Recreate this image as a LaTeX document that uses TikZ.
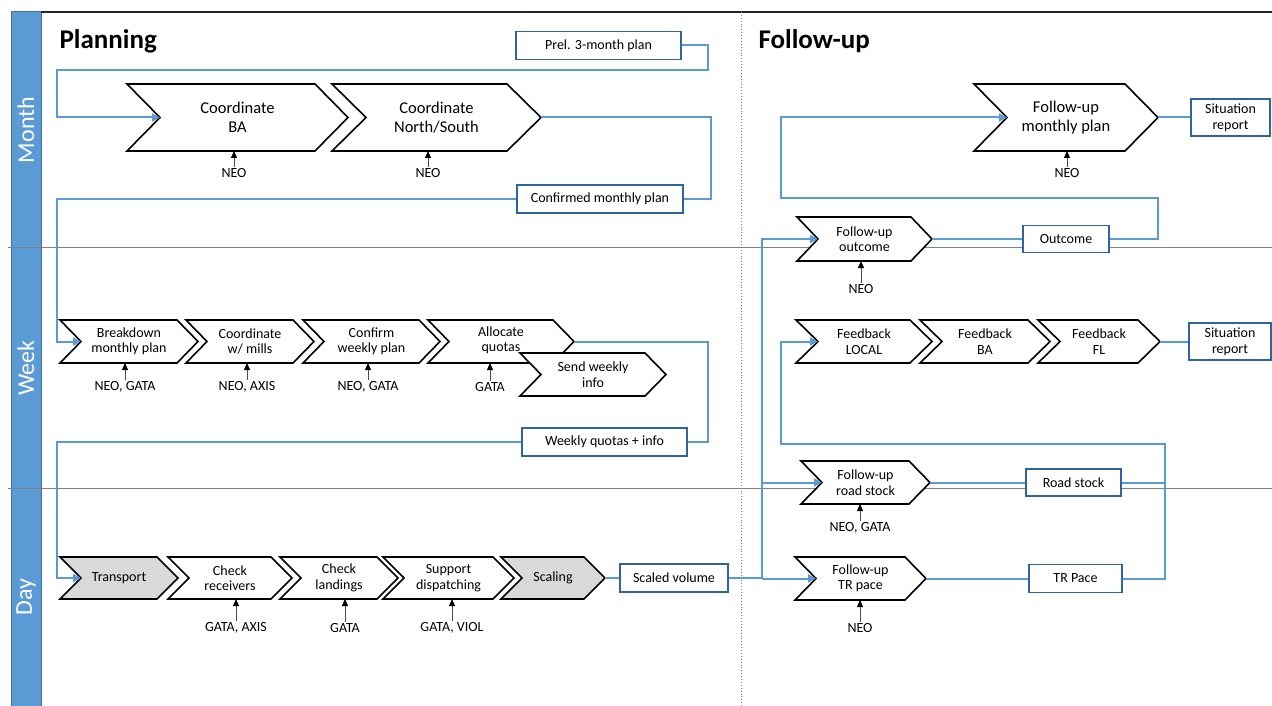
\documentclass[tikz,border=0pt]{standalone}
\usepackage{fontspec}
\setmainfont{Carlito}
\usetikzlibrary{arrows.meta}
\definecolor{laneblue}{RGB}{91,155,213}
\definecolor{laneedge}{RGB}{65,113,156}
\definecolor{connblue}{RGB}{91,155,213}
\definecolor{boxedge}{RGB}{46,100,160}
\definecolor{chevgray}{RGB}{217,217,217}
\tikzset{
 chevline/.style={draw=black, line width=1.6pt, line join=miter},
 chevtext/.style={align=center, inner sep=0pt, font=\fontsize{14}{15.5}\selectfont},
 bigtext/.style={font=\fontsize{16.5}{19.5}\selectfont},
 box/.style={draw=boxedge, line width=1.3pt, fill=white, align=center, inner sep=0pt, font=\fontsize{14}{16}\selectfont},
 conn/.style={draw=connblue, line width=2pt},
 connarrow/.style={conn, -{Triangle[length=8pt,width=8pt]}},
 tag/.style={font=\fontsize{14}{16}\selectfont, inner sep=1pt},
 tagarrow/.style={draw=gray!60!black, line width=0.8pt, -{Triangle[length=7pt,width=6pt,color=black]}},
 lanelbl/.style={rotate=90, text=white, font=\fontsize{24}{28}\selectfont},
 titletext/.style={font=\bfseries\fontsize{27}{32}\selectfont, anchor=west},
}
% name, fill, xl, xr, yt, yb, depth, node style, text
\newcommand\mychev[9]{%
  \draw[chevline, fill=#2] (#3,#5) -- (#4,#5) -- ({#4+#7},{(#5+#6)/2}) -- (#4,#6) -- (#3,#6) -- ({#3+#7},{(#5+#6)/2}) -- cycle;
  \coordinate (#1-in) at ({#3+#7},{(#5+#6)/2});
  \coordinate (#1-out) at ({#4+#7},{(#5+#6)/2});
  \coordinate (#1-b) at (#3,#6);
  \node[chevtext,#8] (#1) at ({(#3+#7+#4)/2},{(#5+#6)/2}) {#9};
}
% name, chevron, x, y, text
\newcommand\mytag[5]{%
  \node[tag] (#1) at (#3,#4) {#5};
  \draw[tagarrow] (#1.north) -- (#1.north |- #2-b);
}
\begin{document}
\begin{tikzpicture}[x=1pt,y=-1pt]
\useasboundingbox (0,0) rectangle (1272,706);
% lanes
\fill[laneblue] (11,12) rectangle (41,706);
\draw[laneedge, line width=1pt] (11,706) -- (11,12) -- (41,12) -- (41,706);
\draw[black!85, line width=1.2pt] (41,12) -- (1272,12);
\draw[gray, line width=1pt] (8,247) -- (1272,247);
\draw[gray, line width=1pt] (8,488) -- (1272,488);
\draw[gray, dotted, line width=0.9pt] (741,12) -- (741,706);
\node[lanelbl] (lmonth) at (26,130) {Month};
\node[lanelbl] (lweek) at (26,368) {Week};
\node[lanelbl] (lday) at (26,597) {Day};
\node[titletext] (tplan) at (56,41) {Planning};
\node[titletext] (tfollow) at (755,41) {Follow-up};

% boxes
\node[box, minimum width=165pt, minimum height=28pt] (prel) at (598.5,45.5) {Prel. 3-month plan};
\node[box, minimum width=166pt, minimum height=28pt] (conf) at (600,199) {Confirmed monthly plan};
\node[box, minimum width=165pt, minimum height=28pt] (wq) at (604.5,442) {Weekly quotas + info};
\node[box, minimum width=108pt, minimum height=28pt] (sv) at (674,578) {Scaled volume};
\node[box, minimum width=79pt, minimum height=37pt] (sit1) at (1230.5,117.5) {Situation\\report};
\node[box, minimum width=82pt, minimum height=37pt] (sit2) at (1230,341.5) {Situation\\report};
\node[box, minimum width=86pt, minimum height=27pt] (oc) at (1066,239) {Outcome};
\node[box, minimum width=95pt, minimum height=27pt] (rs) at (1073.5,482.5) {Road stock};
\node[box, minimum width=93pt, minimum height=28pt] (tp) at (1075.5,578.5) {TR Pace};

% chevrons: month
\mychev{cba}{white}{127}{315}{84}{151}{33}{bigtext}{Coordinate\\BA}
\mychev{cns}{white}{332}{507}{84}{151}{34}{bigtext}{Coordinate\\North/South}
\mychev{fmp}{white}{974}{1125}{84}{151}{33}{bigtext}{Follow-up\\monthly plan}
% week
\mychev{bd}{white}{60}{177}{320}{363}{21}{}{Breakdown\\monthly plan}
\mychev{cm}{white}{186}{293}{320}{363}{21}{}{Coordinate\\w/ mills}
\mychev{cw}{white}{303}{419}{320}{363}{21}{}{Confirm\\weekly plan}
\mychev{aq}{white}{428}{553}{320}{363}{21}{yshift=1pt}{Allocate\\quotas}
\mychev{sw}{white}{520}{645}{353}{396}{21}{}{Send weekly\\info}
\mychev{fo}{white}{797}{911}{217}{261}{21}{}{Follow-up\\outcome}
\mychev{fl}{white}{796}{910}{320}{363}{22}{}{Feedback\\LOCAL}
\mychev{fba}{white}{920}{1028}{320}{363}{22}{}{Feedback\\BA}
\mychev{ffl}{white}{1038}{1138}{320}{363}{22}{}{Feedback\\FL}
\mychev{frs}{white}{801}{909}{461}{504}{21}{}{Follow-up\\road stock}
% day
\mychev{tr}{chevgray}{60}{157}{557}{599}{21}{}{Transport}
\mychev{cr}{white}{168}{271}{557}{599}{21}{}{Check\\receivers}
\mychev{cl}{white}{280}{377}{557}{599}{21}{}{Check\\landings}
\mychev{sd}{white}{383}{493}{557}{599}{21}{}{Support\\dispatching}
\mychev{sc}{chevgray}{501}{584}{557}{599}{21}{}{Scaling}
\mychev{ftr}{white}{795}{905}{557}{600}{21}{}{Follow-up\\TR pace}

% tags
\mytag{t1}{cba}{234}{173}{NEO}
\mytag{t2}{cns}{428}{173}{NEO}
\mytag{t3}{fmp}{1067}{173}{NEO}
\mytag{t4}{bd}{125}{387}{NEO, GATA}
\mytag{t5}{cm}{247}{387}{NEO, AXIS}
\mytag{t6}{cw}{368}{387}{NEO, GATA}
\mytag{t7}{aq}{490}{387}{GATA}
\mytag{t8}{fo}{861}{289}{NEO}
\mytag{t9}{frs}{860}{528}{NEO, GATA}
\mytag{t10}{cr}{236}{628}{GATA, AXIS}
\mytag{t11}{cl}{345}{628}{GATA}
\mytag{t12}{sd}{452}{628}{GATA, VIOL}
\mytag{t13}{ftr}{860}{628}{NEO}

% connectors
\coordinate (j1) at (762,482.5);
\coordinate (j2) at (762,578.5);
\draw[connarrow] (prel.east) -- (708,45.5) -- (708,70) -- (57,70) -- (57,117.5) -- (cba-in);
\draw[conn] (cns-out) -- (711,117.5) -- (711,199) -- (conf.east);
\draw[connarrow] (conf.west) -- (57,199) -- (57,341.5) -- (bd-in);
\draw[conn] (aq-out) -- (708,341.5) -- (708,442) -- (wq.east);
\draw[connarrow] (wq.west) -- (57,442) -- (57,578) -- (tr-in);
\draw[conn] (sc-out) -- (sv.west);
\draw[connarrow] (sv.east) -- (762,578) -- (762,239) -- (fo-in);
\draw[connarrow] (j1) -- (frs-in);
\draw[connarrow] (j2) -- (ftr-in);
\draw[conn] (fo-out) -- (oc.west);
\draw[connarrow] (oc.east) -- (1158,239) -- (1158,198) -- (781,198) -- (781,117.5) -- (fmp-in);
\draw[conn] (fmp-out) -- (sit1.west);
\draw[conn] (ffl-out) -- (sit2.west);
\draw[conn] (frs-out) -- (rs.west);
\draw[conn] (rs.east) -- (1165,482.5);
\draw[conn] (ftr-out) -- (tp.west);
\draw[connarrow] (tp.east) -- (1165,578.5) -- (1165,444) -- (781,444) -- (781,341.5) -- (fl-in);
\end{tikzpicture}
\end{document}
